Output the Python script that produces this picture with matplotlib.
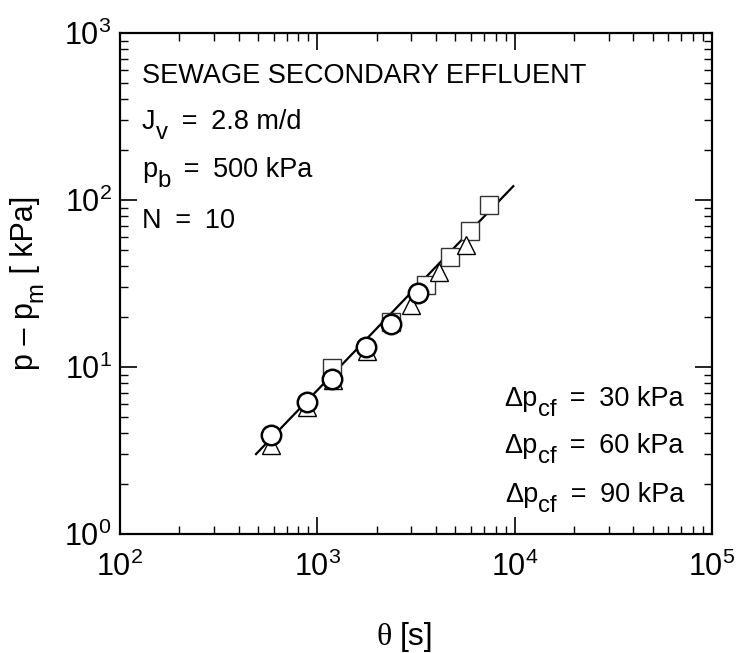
import math
import matplotlib
matplotlib.use("Agg")
import matplotlib.pyplot as plt
from matplotlib.font_manager import FontProperties
from matplotlib.ticker import LogLocator, NullFormatter, FuncFormatter
from matplotlib.transforms import offset_copy

plt.rcParams['font.family'] = ['Liberation Sans', 'DejaVu Sans']
plt.rcParams['mathtext.fontset'] = 'custom'
plt.rcParams['mathtext.rm'] = 'Liberation Sans Narrow'
plt.rcParams['mathtext.it'] = 'Liberation Sans Narrow'

# filtration time [s] vs. pressure rise p - p_m [kPa]
theta_30 = [580, 890, 1191, 1757, 2355, 3227]
dp_30 = [3.92, 6.2, 8.44, 13.2, 18.1, 27.9]

theta_60 = [580, 890, 1200, 1780, 2972, 4150, 5680]
dp_60 = [3.41, 5.78, 8.36, 12.4, 23.5, 37.2, 53.8]

theta_90 = [1183, 2361, 3540, 4710, 5940, 7410]
dp_90 = [9.82, 18.7, 31.0, 45.8, 65.2, 93.3]

# fitted line ends
fit_theta = [489, 9840]
fit_dp = [3.01, 121]

fig = plt.figure(figsize=(7.41, 6.53), dpi=100)
ax = fig.add_axes([120/741, 1-534/653, 592/741, 501/653])
renderer = fig.canvas.get_renderer()

ax.plot(fit_theta, fit_dp, color='black', lw=1.6, zorder=1)
ax.plot(theta_90, dp_90, ls='none', marker='s', ms=13, mfc='white', mec='#333333', mew=1.0, zorder=2)
ax.plot(theta_60, dp_60, ls='none', marker='^', ms=13, mfc='white', mec='black', mew=1.0, zorder=3)
ax.plot(theta_30, dp_30, ls='none', marker='o', ms=14, mfc='white', mec='black', mew=1.8, zorder=4)

ax.set_xscale('log')
ax.set_yscale('log')
ax.set_xlim(1e2, 1e5)
ax.set_ylim(1e0, 1e3)


def pow10(v, pos):
    return r'$\mathregular{10^{%d}}$' % round(math.log10(v))


for s in ax.spines.values():
    s.set_linewidth(1.6)
for axis in (ax.xaxis, ax.yaxis):
    axis.set_major_formatter(FuncFormatter(pow10))
    axis.set_minor_locator(LogLocator(base=10, subs=range(2, 10)))
    axis.set_minor_formatter(NullFormatter())
ax.tick_params(which='both', direction='in', top=True, right=True, labelsize=22)
ax.tick_params(which='major', length=12, width=1.2)
ax.tick_params(which='minor', length=6, width=1.0)
ax.tick_params(axis='x', which='major', pad=13)
ax.tick_params(axis='y', which='major', pad=6)


def rich(x, y, parts, size, transform, ha='left', rotation=0, sub=0.88, drop=10):
    """Write text with big, low subscripts: parts are (string, is_sub)."""
    sizes = [size * sub if low else size for _, low in parts]
    widths = []
    for (s, low), fs in zip(parts, sizes):
        w, _, _ = renderer.get_text_width_height_descent(
            s, FontProperties(family='Liberation Sans', size=fs), ismath=False)
        widths.append(w)
    total = sum(widths)
    adv = 0.0
    if ha == 'right':
        adv = -total
    elif ha == 'center':
        adv = -total / 2
    for (s, low), fs, w in zip(parts, sizes, widths):
        down = drop if low else 0.0
        if rotation == 90:
            dx, dy = down, adv
        else:
            dx, dy = adv, -down
        tr = offset_copy(transform, fig=fig, x=dx, y=dy, units='dots')
        fig.text(x, y, s, fontsize=fs, transform=tr, ha='left', va='baseline',
                 rotation=rotation, rotation_mode='anchor')
        adv += w


EQ = '\u2002=\u2002'

# axis titles
fig.text(392/741, 1-645/653, 'θ', fontsize=23, ha='right', va='baseline',
         family=['Liberation Serif', 'DejaVu Serif'])
fig.text(400/741, 1-645/653, '[s]', fontsize=23, ha='left', va='baseline')
rich(33/741, 1-283/653, [('p – p', False), ('m', True), (' [ kPa]', False)], 22,
     fig.transFigure, ha='center', rotation=90, sub=0.78, drop=9)

ta = ax.transAxes
ax.text(22/592, 1-50/501, 'SEWAGE SECONDARY EFFLUENT', transform=ta, fontsize=19.5)
rich(22/592, 1-96/501, [('J', False), ('v', True), (EQ + '2.8 m/d', False)], 19.5, ta)
rich(22/592, 1-144/501, [('p', False), ('b', True), (EQ + '500 kPa', False)], 19.5, ta)
ax.text(22/592, 1-195/501, 'N' + EQ + '10', transform=ta, fontsize=19.5)

for yb, lab in [(373, '30'), (420, '60'), (469, '90')]:
    rich(1-28/592, 1-yb/501, [('Δp', False), ('cf', True), (EQ + lab + ' kPa', False)],
         19.5, ta, ha='right')

fig.savefig('out.png', dpi=100)
